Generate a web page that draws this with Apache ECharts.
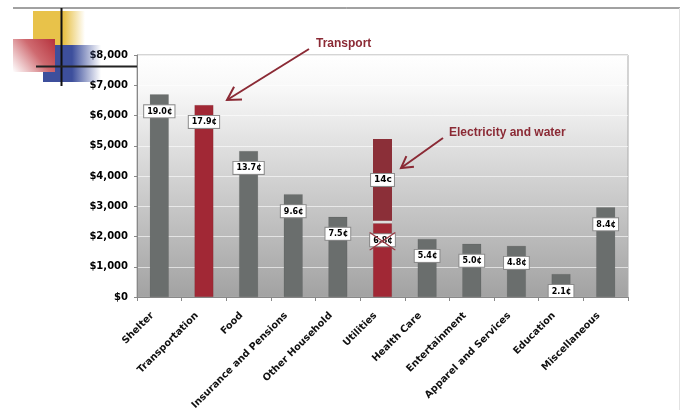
<!DOCTYPE html>
<html>
<head>
<meta charset="utf-8">
<script src="https://cdn.jsdelivr.net/npm/echarts@6/dist/echarts.min.js"></script>
<style>html,body{margin:0;padding:0;background:#fff;}#c{width:685px;height:410px;}</style>
</head>
<body>
<div id="c"></div>
<script>
// ---- data ----
var categories = ['Shelter','Transportation','Food','Insurance and Pensions','Other Household','Utilities','Health Care','Entertainment','Apparel and Services','Education','Miscellaneous'];
var values = [6700, 6350, 4830, 3400, 2650, 2440, 1920, 1760, 1690, 760, 2965];
var barLabels = ['19.0¢','17.9¢','13.7¢','9.6¢','7.5¢','6.8¢','5.4¢','5.0¢','4.8¢','2.1¢','8.4¢'];
var utilGap = [null, null, null, null, null, 80, null, null, null, null, null];
var utilUpper = [null, null, null, null, null, 2700, null, null, null, null, null];
var upperLabel = '14c';
var highlighted = ['Transportation', 'Utilities'];
var yTicks = ['$0','$1,000','$2,000','$3,000','$4,000','$5,000','$6,000','$7,000','$8,000'];
var annotations = ['Transport', 'Electricity and water'];

// ---- chart ----
var RED = '#a12835', DARKRED = '#8b2f38', GRAY = '#6a6e6d', ANN = '#8b2a35';
var FONT = 'DejaVu Sans';
var chart = echarts.init(document.getElementById('c'), null, {renderer: 'canvas'});

function arrow(x1, y1, x2, y2, len) {
  var dx = x1 - x2, dy = y1 - y2, L = Math.sqrt(dx*dx + dy*dy);
  var ux = dx / L, uy = dy / L, c = Math.cos(Math.PI/6), s = Math.sin(Math.PI/6);
  var b1 = [x2 + len*(ux*c - uy*s), y2 + len*(ux*s + uy*c)];
  var b2 = [x2 + len*(ux*c + uy*s), y2 + len*(-ux*s + uy*c)];
  var st = {stroke: ANN, lineWidth: 2, fill: null};
  return [
    {type: 'line', shape: {x1: x1, y1: y1, x2: x2, y2: y2}, style: st, z: 100},
    {type: 'polyline', shape: {points: [b1, [x2, y2], b2]}, style: st, z: 100}
  ];
}

var graphics = [
  {type: 'rect', shape: {x: 33, y: 11, width: 52, height: 34}, z: 1,
   style: {fill: new echarts.graphic.LinearGradient(0,0,1,0,[{offset:0,color:'#e8c24a'},{offset:0.6,color:'#e8c24a'},{offset:1,color:'rgba(232,194,74,0)'}])}},
  {type: 'rect', shape: {x: 43, y: 45, width: 58, height: 37}, z: 2,
   style: {fill: new echarts.graphic.LinearGradient(0,0,1,0,[{offset:0,color:'#3d4f9c'},{offset:0.5,color:'#3d4f9c'},{offset:1,color:'rgba(61,79,156,0)'}])}},
  {type: 'rect', shape: {x: 13, y: 39, width: 42, height: 33}, z: 3,
   style: {fill: new echarts.graphic.LinearGradient(1,0,0,1,[{offset:0,color:'#b5323c'},{offset:0.45,color:'#cf6a70'},{offset:1,color:'rgba(255,255,255,0.95)'}])}},
  {type: 'line', shape: {x1: 13, y1: 8, x2: 680, y2: 8}, style: {stroke: '#444', lineWidth: 1}, z: 4},
  {type: 'line', shape: {x1: 679.5, y1: 8, x2: 679.5, y2: 410}, style: {stroke: '#e2e2e2', lineWidth: 1}, z: 4},
  {type: 'line', shape: {x1: 61.5, y1: 8, x2: 61.5, y2: 86}, style: {stroke: '#111', lineWidth: 2}, z: 5},
  {type: 'line', shape: {x1: 36, y1: 66.5, x2: 137, y2: 66.5}, style: {stroke: '#222', lineWidth: 2}, z: 5},
  {type: 'text', left: 316, top: 38, z: 100,
   style: {text: annotations[0], fill: ANN, font: 'bold 12px "Liberation Sans"'}},
  {type: 'text', left: 449, top: 127, z: 100,
   style: {text: annotations[1], fill: ANN, font: 'bold 12px "Liberation Sans"'}}
].concat(arrow(309, 49, 227, 100, 15)).concat(arrow(443, 138, 401, 168, 13));

var labelStyle = {
  show: true, fontSize: 8, fontWeight: 'bold', fontFamily: FONT, color: '#000',
  backgroundColor: '#fff', borderColor: '#8a8a8a', borderWidth: 1, padding: [2, 2, 1, 3], lineHeight: 9
};

var option = {
  animation: false,
  backgroundColor: '#fff',
  grid: {
    left: 137, right: 57, top: 55, bottom: 113, containLabel: false, outerBoundsMode: 'none',
    show: true, borderColor: '#aaa', borderWidth: 1,
    backgroundColor: new echarts.graphic.LinearGradient(0,0,0,1,[
      {offset: 0, color: '#ffffff'}, {offset: 0.15, color: '#f7f7f7'},
      {offset: 0.5, color: '#d3d3d3'}, {offset: 1, color: '#a2a2a2'}])
  },
  xAxis: {
    type: 'category', data: categories,
    axisLine: {show: true, lineStyle: {color: '#888', width: 1}},
    axisTick: {show: true, length: 4, lineStyle: {color: '#888'}},
    axisLabel: {interval: 0, rotate: 45, margin: 10, padding: [0, 10, 0, 0], fontSize: 9.8, fontWeight: 'bold', fontFamily: FONT, color: '#111'},
    splitLine: {show: false}
  },
  yAxis: {
    type: 'value', min: 0, max: 8000, interval: 1000,
    axisLine: {show: true, lineStyle: {color: '#888', width: 1}},
    axisTick: {show: true, length: 3, lineStyle: {color: '#888'}},
    axisLabel: {margin: 9, fontSize: 10, fontWeight: 'bold', fontFamily: FONT, color: '#000',
      formatter: function (v) { return yTicks[Math.round(v / 1000)]; }},
    splitLine: {show: true, lineStyle: {color: 'rgba(255,255,255,0.6)', width: 1}}
  },
  series: [
    {
      type: 'bar', stack: 'u', barWidth: 19,
      data: values.map(function (v, i) {
        return {value: v, itemStyle: {color: highlighted.indexOf(categories[i]) >= 0 ? RED : GRAY}};
      }),
      itemStyle: {borderColor: 'rgba(0,0,0,0.15)', borderWidth: 0.5},
      label: Object.assign({position: 'insideTop', distance: 11,
        formatter: function (p) { return barLabels[p.dataIndex]; }}, labelStyle),
      markPoint: {
        silent: true,
        data: [{
          coord: [categories[5], values[5]],
          symbol: 'path://M0,0L1.1,0L26,17.2L26,18L24.9,18L0,0.8Z M24.9,0L26,0L26,0.8L1.1,18L0,18L0,17.2Z',
          symbolSize: [26, 18], symbolOffset: [0, 18], symbolKeepAspect: false,
          itemStyle: {color: '#9a3a44'}, label: {show: false}
        }]
      },
      z: 3
    },
    {
      type: 'bar', stack: 'u', barWidth: 19, silent: true,
      data: utilGap, itemStyle: {color: 'rgba(240,240,240,0.6)'}, z: 3
    },
    {
      type: 'bar', stack: 'u', barWidth: 19,
      data: utilUpper, itemStyle: {color: DARKRED},
      label: Object.assign({position: 'inside', formatter: function () { return upperLabel; }}, labelStyle, {fontSize: 9}),
      z: 3
    }
  ],
  graphic: graphics
};
chart.setOption(option);
</script>
</body>
</html>
